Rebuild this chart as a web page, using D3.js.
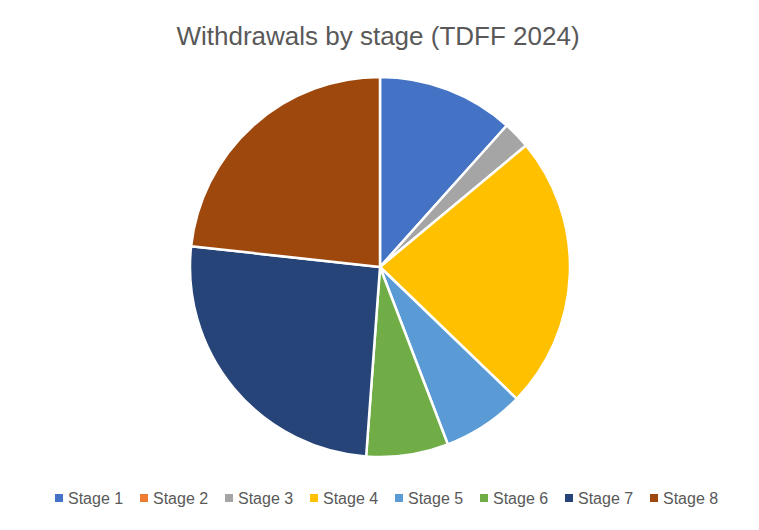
<!DOCTYPE html>
<html>
<head>
<meta charset="utf-8">
<script src="https://cdn.jsdelivr.net/npm/d3@7"></script>
<style>
  body { margin: 0; background: #fff; }
  text { font-family: "Liberation Sans", Arial, sans-serif; fill: #595959; }
</style>
</head>
<body>
<div id="chart"></div>
<script>
// data
const stages = ["Stage 1", "Stage 2", "Stage 3", "Stage 4", "Stage 5", "Stage 6", "Stage 7", "Stage 8"];
const withdrawals = [5, 0, 1, 10, 3, 3, 11, 10];
const colors = ["#4472C4", "#ED7D31", "#A5A5A5", "#FFC000", "#5B9BD5", "#70AD47", "#264478", "#9E480E"];

const width = 759, height = 530;
const cx = 380, cy = 267, radius = 190;

const svg = d3.select("#chart")
    .append("svg")
    .attr("width", width)
    .attr("height", height);

svg.append("text")
    .attr("x", 378)
    .attr("y", 45)
    .attr("text-anchor", "middle")
    .style("font-size", "26px")
    .text("Withdrawals by stage (TDFF 2024)");

const data = stages.map((s, i) => ({ stage: s, value: withdrawals[i] }));

const color = d3.scaleOrdinal()
    .domain(stages)
    .range(colors);

const pie = d3.pie()
    .sort(null)
    .value(d => d.value);

const arc = d3.arc()
    .innerRadius(0)
    .outerRadius(radius);

const chart = svg.append("g")
    .attr("transform", `translate(${cx},${cy})`);

chart.selectAll("path")
    .data(pie(data).filter(d => d.data.value > 0))
    .enter()
    .append("path")
    .attr("d", arc)
    .attr("fill", d => color(d.data.stage))
    .attr("stroke", "#fff")
    .attr("stroke-width", 2.5)
    .attr("stroke-linejoin", "round");

// legend along the bottom
const legendX = d3.scalePoint()
    .domain(stages)
    .range([55, 650]);

const legend = svg.append("g")
    .attr("transform", "translate(0,498)");

const item = legend.selectAll("g")
    .data(stages)
    .enter()
    .append("g")
    .attr("transform", d => `translate(${legendX(d)},0)`);

item.append("rect")
    .attr("y", -4)
    .attr("width", 8)
    .attr("height", 8)
    .attr("fill", d => color(d));

item.append("text")
    .attr("x", 13)
    .attr("y", 6)
    .style("font-size", "16px")
    .text(d => d);
</script>
</body>
</html>
